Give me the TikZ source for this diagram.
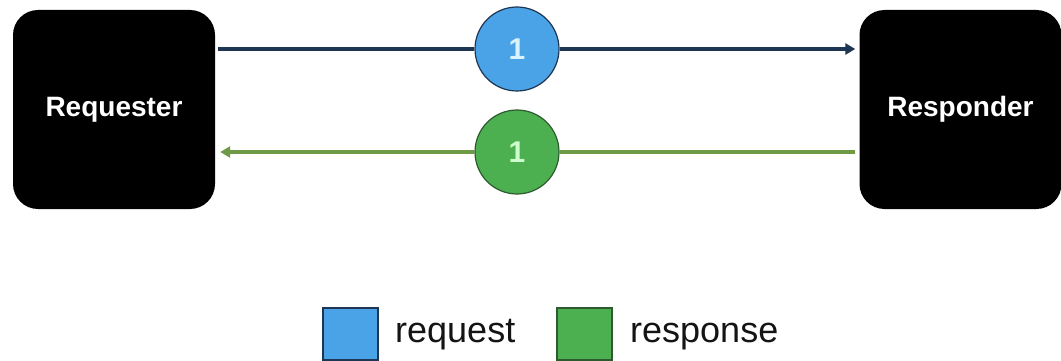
\documentclass[tikz,border=0pt]{standalone}
\usepackage{fontspec}
\setmainfont{Liberation Sans}
\usetikzlibrary{arrows.meta}
\definecolor{navy}{HTML}{1E3553}
\definecolor{reqblue}{HTML}{4AA3E6}
\definecolor{rspgreen}{HTML}{4CAF50}
\definecolor{rspline}{HTML}{6E9A45}
\definecolor{darkgreen}{HTML}{2E5A30}
\tikzset{
  party/.style={fill=black, rounded corners=25pt, minimum width=202pt, minimum height=199pt,
    inner sep=0pt, text=white, font=\fontsize{28}{30}\selectfont\bfseries},
  badge/.style={circle, minimum size=84pt, inner sep=0pt, line width=1.2pt,
    font=\fontsize{30}{32}\selectfont\bfseries},
  reqbadge/.style={badge, fill=reqblue, draw=navy, text=cyan!15},
  rspbadge/.style={badge, fill=rspgreen, draw=darkgreen, text=green!20},
  reqline/.style={draw=navy, line width=4pt},
  rspline/.style={draw=rspline, line width=4pt},
  tip/.style={-{Triangle[length=10pt,width=11pt]}},
  swatch/.style={minimum width=55pt, minimum height=52pt, inner sep=0pt, line width=1.2pt},
  legendtext/.style={font=\fontsize{36}{38}\selectfont, anchor=base west, inner sep=0pt, text=black!92}
}
\begin{document}
\begin{tikzpicture}[x=1pt, y=-1pt]
  \useasboundingbox[fill=white] (0,0) rectangle (1061,361);

  % the two parties
  \node[party] (req) at (114,109.5) {Requester};
  \node[party] (rsp) at (960.5,109.5) {Responder};

  % message badges
  \node[reqbadge] (q1) at (517,49) {1};
  \node[rspbadge] (r1) at (517,152) {1};

  % request: requester -> responder
  \draw[reqline] ([xshift=3pt]req.east |- q1) -- (q1.west);
  \draw[reqline, tip, shorten >=4pt] (q1.east) -- (rsp.west |- q1);

  % response: responder -> requester
  \draw[rspline, shorten <=4pt] (rsp.west |- r1) -- (r1.east);
  \draw[rspline, tip, shorten >=5pt] (r1.west) -- (req.east |- r1);

  % legend
  \node[swatch, fill=reqblue, draw=navy] (lq) at (350.5,334) {};
  \node[legendtext] (lqt) at (395,342) {request};
  \node[swatch, fill=rspgreen, draw=darkgreen] (lr) at (584.5,334) {};
  \node[legendtext] (lrt) at (630,342) {response};
\end{tikzpicture}
\end{document}
